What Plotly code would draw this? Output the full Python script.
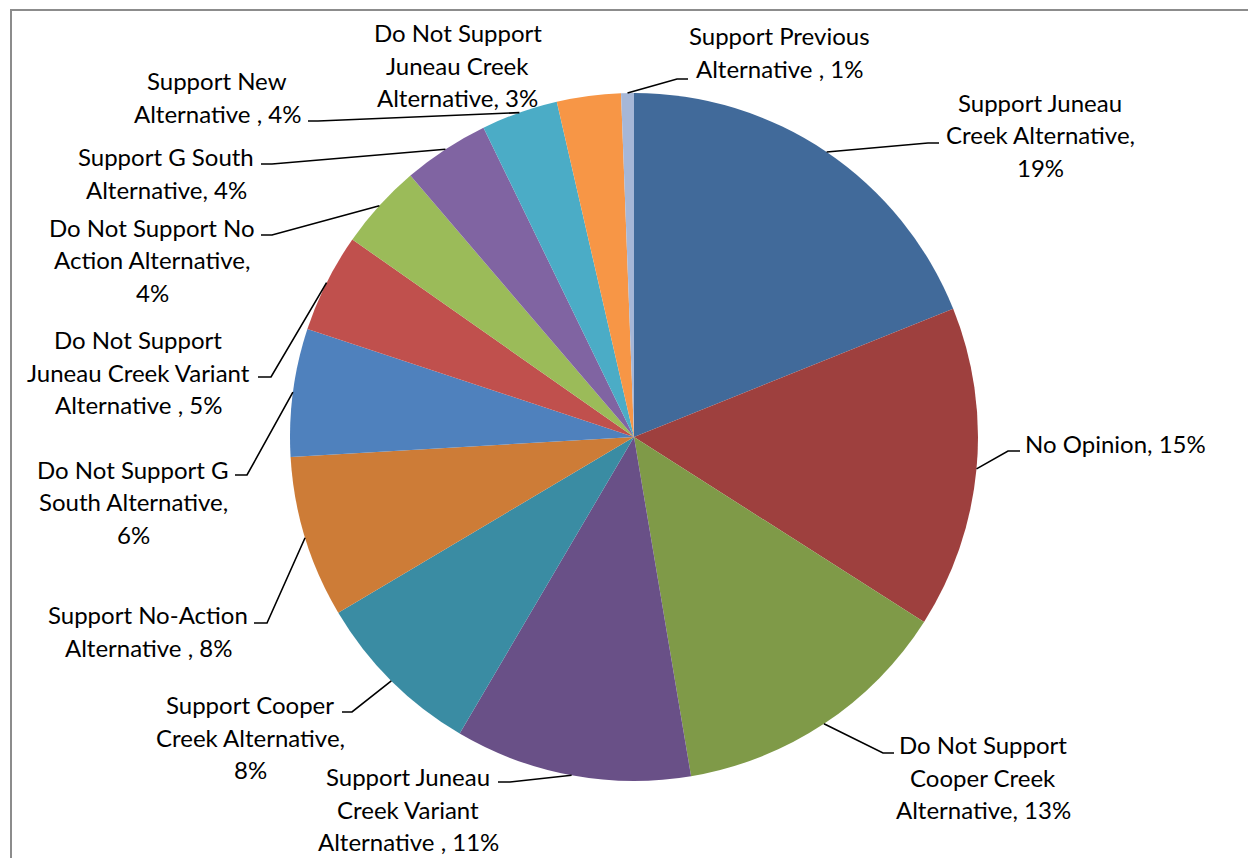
import math
import plotly.graph_objects as go

# ---- data ----
categories = [
    "Support Juneau Creek Alternative",
    "No Opinion",
    "Do Not Support Cooper Creek Alternative",
    "Support Juneau Creek Variant Alternative",
    "Support Cooper Creek Alternative",
    "Support No-Action Alternative",
    "Do Not Support G South Alternative",
    "Do Not Support Juneau Creek Variant Alternative",
    "Do Not Support No Action Alternative",
    "Support G South Alternative",
    "Support New Alternative",
    "Do Not Support Juneau Creek Alternative",
    "Support Previous Alternative",
]
values = [18.9, 15.1, 13.3, 11.1, 8.0, 7.6, 6.0, 4.65, 4.0, 4.05, 3.6, 3.0, 0.6]
colors = ["#416A9A", "#9E403E", "#7F9A48", "#695087", "#3A8CA3", "#CD7C37", "#4F81BD",
          "#C0504D", "#9BBB59", "#8064A2", "#4BACC6", "#F79646", "#A6B7D7"]

# label wording as displayed (line breaks), {p} = rounded percent
label_formats = [
    "Support Juneau<br>Creek Alternative,<br>{p}%",
    "No Opinion, {p}%",
    "Do Not Support<br>Cooper Creek<br>Alternative, {p}%",
    "Support Juneau<br>Creek Variant<br>Alternative , {p}%",
    "Support Cooper<br>Creek Alternative,<br>{p}%",
    "Support No-Action<br>Alternative , {p}%",
    "Do Not Support G<br>South Alternative,<br>{p}%",
    "Do Not Support<br>Juneau Creek Variant<br>Alternative , {p}%",
    "Do Not Support No<br>Action Alternative,<br>{p}%",
    "Support G South<br>Alternative, {p}%",
    "Support New<br>Alternative , {p}%",
    "Do Not Support<br>Juneau Creek<br>Alternative, {p}%",
    "Support Previous<br>Alternative , {p}%",
]

# ---- layout (pixels) ----
W, H = 1248, 858
CX, CY, R = 634, 437, 344
LINE_H = 32.8
label_pos = [(1040, 135), (1115, 443), (983, 777), (408, 809), (250, 737), (148, 631),
             (133, 502), (138, 372), (152, 260), (166, 173), (217, 97), (458, 65), (779, 52)]
# leader line: (elbow, end) in pixels, None = no leader
leaders = [((928, 143), (939, 143)), ((1008, 451), (1020, 451)), ((883, 753), (894, 753)),
           ((510, 782), (498, 782)), ((352, 712), (342, 712)), ((267, 623), (254, 623)),
           ((247, 475), (235, 475)), ((271, 377), (258, 377)), ((272, 235), (261, 235)),
           ((272, 164), (261, 164)), ((318, 121), (308, 121)), None, ((677, 79), (688, 79))]


def px(x):
    return x / W


def py(y):
    return 1 - y / H


total = sum(values)
fig = go.Figure(go.Pie(
    labels=categories, values=values, sort=False, direction="clockwise", rotation=0,
    marker=dict(colors=colors, line=dict(width=0)), textinfo="none", hoverinfo="label+percent",
    domain=dict(x=[px(CX - R), px(CX + R)], y=[py(CY + R), py(CY - R)]),
    showlegend=False,
))

annotations = []
shapes = []
cum = 0.0
for i, v in enumerate(values):
    mid = (cum + v / 2) / total * 2 * math.pi
    cum += v
    pct = round(v / total * 100)
    lx, ly = label_pos[i]
    lines = label_formats[i].format(p=pct).split("<br>")
    n = len(lines)
    for k, line in enumerate(lines):
        yy = ly + (k - (n - 1) / 2) * LINE_H
        annotations.append(dict(
            x=px(lx), y=py(yy), xref="paper", yref="paper", showarrow=False,
            text=line, align="center",
            font=dict(family="Lato, Carlito, sans-serif", size=24, color="#000000"),
            xanchor="center", yanchor="middle",
        ))
    if leaders[i] is not None:
        ex = CX + R * math.sin(mid)
        ey = CY - R * math.cos(mid)
        (bx, by), (tx, ty) = leaders[i]
        path = f"M {px(ex)} {py(ey)} L {px(bx)} {py(by)} L {px(tx)} {py(ty)}"
        shapes.append(dict(type="path", path=path, xref="paper", yref="paper",
                           line=dict(color="#000000", width=1.6)))

# chart-area frame
shapes.append(dict(type="rect", xref="paper", yref="paper", x0=px(11), y0=py(900), x1=px(1300), y1=py(10),
                   line=dict(color="#8C8C8C", width=2), fillcolor="rgba(0,0,0,0)"))

fig.update_layout(
    width=W, height=H, margin=dict(l=0, r=0, t=0, b=0),
    paper_bgcolor="#FFFFFF", plot_bgcolor="#FFFFFF",
    annotations=annotations, shapes=shapes,
)
fig.write_html("out.html")
